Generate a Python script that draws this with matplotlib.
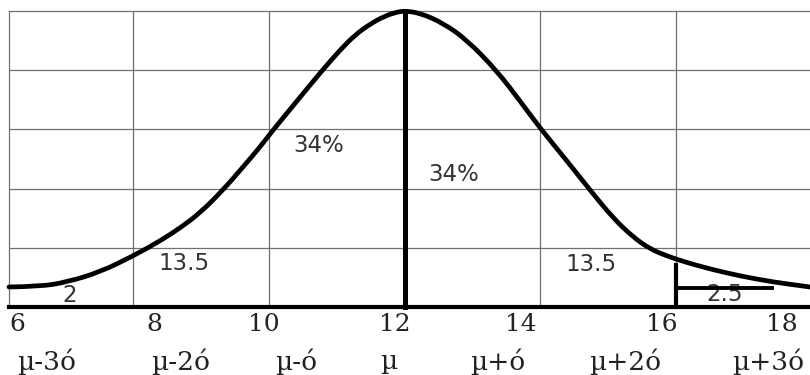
#!/usr/bin/env python3
"""Normal curve sketch with the 68-95-99.7 shares marked between sigma steps."""
import matplotlib

matplotlib.use("Agg")
import matplotlib.pyplot as plt
from matplotlib.patches import PathPatch
from matplotlib.path import Path

# curve read point by point, x in value units, y in grid units
CURVE_X = [6.173, 6.630, 7.028, 7.514, 8.000, 8.398, 8.692, 8.987, 9.326,
           9.621, 9.871, 10.018, 10.210, 10.416, 10.755, 11.050, 11.271,
           11.492, 11.713, 11.889, 12.007, 12.228, 12.567, 12.921, 13.363,
           13.702, 13.996, 14.394, 14.733, 15.072, 15.367, 15.617, 15.868,
           16.133, 16.501, 16.943, 17.429, 17.974]
CURVE_Y = [0.338, 0.346, 0.422, 0.591, 0.861, 1.115, 1.334, 1.588, 1.976,
           2.365, 2.703, 2.922, 3.193, 3.480, 3.953, 4.341, 4.595,
           4.780, 4.916, 4.983, 5.000, 4.966, 4.797, 4.510, 3.986,
           3.480, 3.024, 2.466, 1.976, 1.503, 1.182, 0.980, 0.861,
           0.760, 0.642, 0.524, 0.422, 0.338]

MEAN = 12.0
PEAK = 5.0
TAIL_X = 16.0
TAIL_TOP = 0.71
TAIL_BAR_Y = 0.32
TAIL_BAR_END = 17.41

GRID_X = [8, 10, 12, 14, 16]
GRID_Y = [1, 2, 3, 4]

VALUE_LABELS = ["6", "8", "10", "12", "14", "16", "18"]
SIGMA_LABELS = ["µ-3ó", "µ-2ó", "µ-ó", "µ", "µ+ó", "µ+2ó", "µ+3ó"]

SHARE_LABELS = ["2", "13.5", "34%", "34%", "13.5", "2.5"]

# where each hand-placed label sits (data units)
VALUE_LABEL_X = [6.29, 8.31, 9.92, 11.85, 13.72, 15.79, 17.56]
SIGMA_LABEL_X = [6.73, 8.71, 10.40, 11.77, 13.38, 15.25, 17.36]
SHARE_POS = [(7.07, 0.19), (8.75, 0.73), (10.74, 2.72),
             (12.73, 2.23), (14.75, 0.71), (16.72, 0.215)]


def smooth_path(xs, ys):
    """Quadratic Bezier through the midpoints, using each point as control."""
    pts = list(zip(xs, ys))
    verts = [pts[0]]
    codes = [Path.MOVETO]
    for i in range(1, len(pts) - 1):
        mid = ((pts[i][0] + pts[i + 1][0]) / 2, (pts[i][1] + pts[i + 1][1]) / 2)
        verts += [pts[i], mid]
        codes += [Path.CURVE3, Path.CURVE3]
    verts.append(pts[-1])
    codes.append(Path.LINETO)
    return Path(verts, codes)


fig = plt.figure(figsize=(8.1, 3.75), dpi=100)
ax = fig.add_axes([9 / 810, 68 / 375, 801 / 810, 296 / 375])
ax.set_xlim(6.173, 17.974)
ax.set_ylim(0, 5)

grid_color = "#707070"
for gx in GRID_X:
    ax.axvline(gx, color=grid_color, lw=0.9, zorder=1)
for gy in GRID_Y:
    ax.axhline(gy, color=grid_color, lw=0.9, zorder=1)

ax.set_xticks([])
ax.set_yticks([])
for side in ("top", "left"):
    ax.spines[side].set_color(grid_color)
    ax.spines[side].set_linewidth(0.9)
ax.spines["right"].set_visible(False)
ax.spines["bottom"].set_color("black")
ax.spines["bottom"].set_linewidth(3.0)
ax.spines["bottom"].set_zorder(5)

curve = PathPatch(smooth_path(CURVE_X, CURVE_Y), facecolor="none",
                  edgecolor="black", lw=3.4, capstyle="round",
                  joinstyle="round", clip_on=False, zorder=4)
ax.add_patch(curve)
ax.plot([MEAN, MEAN], [0, PEAK], color="black", lw=3.6, clip_on=False, zorder=4)
ax.plot([TAIL_X, TAIL_X], [0, TAIL_TOP], color="black", lw=3.0, zorder=4)
ax.plot([TAIL_X, TAIL_BAR_END], [TAIL_BAR_Y, TAIL_BAR_Y], color="black",
        lw=2.8, zorder=4)

for text, (tx, ty) in zip(SHARE_LABELS, SHARE_POS):
    ax.text(tx, ty, text, ha="center", va="center", fontsize=16.5,
            family="DejaVu Sans", color="#333333", zorder=3)

for text, tx in zip(VALUE_LABELS, VALUE_LABEL_X):
    ax.text(tx, -0.29, text, ha="center", va="center", fontsize=18,
            family="DejaVu Serif", color="#222222", clip_on=False)
for text, tx in zip(SIGMA_LABELS, SIGMA_LABEL_X):
    ax.text(tx, -0.92, text, ha="center", va="center", fontsize=19,
            family="DejaVu Serif", color="#222222", clip_on=False)

fig.savefig("out.png", dpi=100)
